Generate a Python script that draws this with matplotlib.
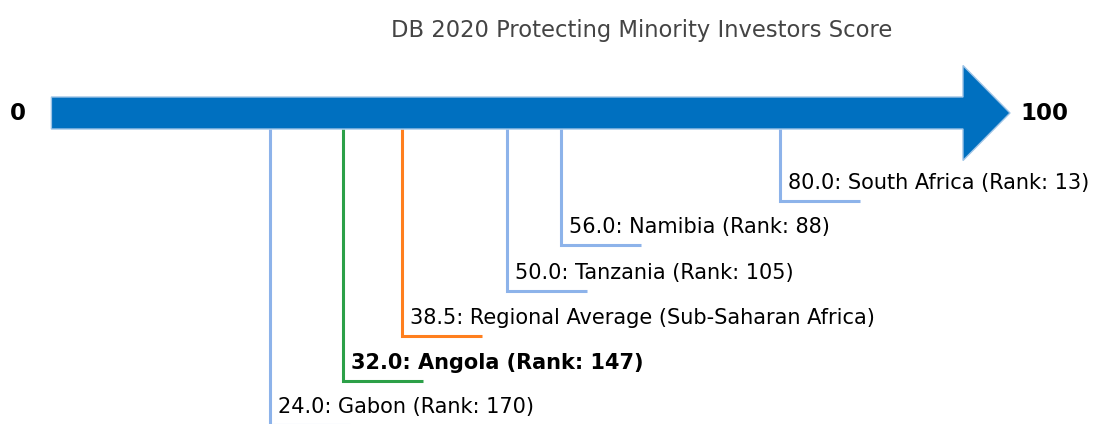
import numpy as np
import matplotlib.pyplot as plt
from matplotlib.patches import FancyArrow

# scores, labels and colours of each marker
scores = [24.0, 32.0, 38.5, 50.0, 56.0, 80.0]
names = ["Gabon", "Angola", "Regional Average (Sub-Saharan Africa)",
         "Tanzania", "Namibia", "South Africa"]
ranks = [170, 147, None, 105, 88, 13]
colors = ["#8db3ea", "#2ca048", "#ff7f1e", "#8db3ea", "#8db3ea", "#8db3ea"]
bold = [False, True, False, False, False, False]
# row (in pixels, from top) of each underline
levels = [425, 381, 336, 291, 245, 201]

title = "DB 2020 Protecting Minority Investors Score"

W, H = 1093, 424
px = 910.7 / 100.0  # pixels per score point
x0 = 51.4           # pixel of score 0

fig = plt.figure(figsize=(W / 100, H / 100), dpi=100)
ax = fig.add_axes([0, 0, 1, 1])
ax.set_xlim(-x0 / px, (W - x0) / px)
ax.set_ylim(H, 0)
ax.axis("off")

# big arrow (y in pixels, x in score units)
shaft_top, shaft_bot = 97, 129
yc = (shaft_top + shaft_bot) / 2
arr = FancyArrow(0, yc, (1010 - x0) / px, 0, width=shaft_bot - shaft_top,
                 head_width=95, head_length=47 / px, length_includes_head=True,
                 facecolor="#0070c0", edgecolor="#9dc3e6", linewidth=1, zorder=3)
ax.add_patch(arr)

ax.text(-x0 / px + 18 / px, yc, "0", fontsize=16.5, fontweight="bold",
        ha="center", va="center")
ax.text((1044 - x0) / px, yc, "100", fontsize=16.5, fontweight="bold",
        ha="center", va="center")

seg = 80 / px
for s, n, r, c, b, lv in zip(scores, names, ranks, colors, bold, levels):
    ax.plot([s, s, s + seg], [shaft_bot, lv, lv], color=c, lw=2.2,
            solid_capstyle="butt", solid_joinstyle="miter", zorder=2,
            clip_on=False)
    lab = f"{s:.1f}: {n}" if r is None else f"{s:.1f}: {n} (Rank: {r})"
    ax.text(s + 8 / px, min(lv, 426) - 18, lab, fontsize=15, ha="left",
            va="center", fontweight="bold" if b else "normal", color="black")

fig.text(642 / W, 1 - 30 / H, title, fontsize=16.3, color="#444444",
         ha="center", va="center")

fig.savefig("out.png", dpi=100)
